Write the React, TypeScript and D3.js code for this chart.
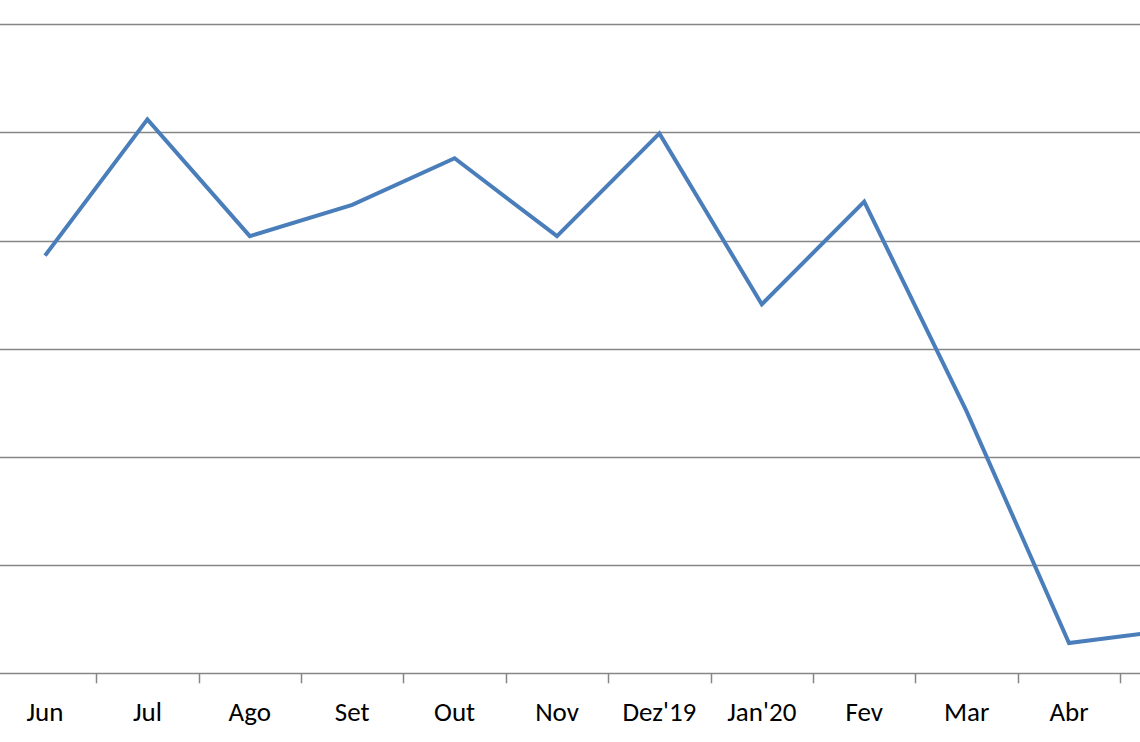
import React from "react";
import * as d3 from "d3";

const categories = ["Jun", "Jul", "Ago", "Set", "Out", "Nov", "Dez'19", "Jan'20", "Fev", "Mar", "Abr", "Mai"];
const values = [3.86, 5.12, 4.04, 4.33, 4.76, 4.04, 4.99, 3.41, 4.36, 2.42, 0.28, 0.40];
const yTicks = [0, 1, 2, 3, 4, 5, 6];

const W = 1140;
const H = 742;

export default function App() {
  const x = d3
    .scaleBand<string>()
    .domain(categories)
    .range([-6.2, -6.2 + 102.4 * categories.length])
    .paddingInner(0)
    .paddingOuter(0);
  const y = d3.scaleLinear().domain([0, 6]).range([673.3, 24.1]);
  const cx = (c: string) => (x(c) as number) + x.bandwidth() / 2;

  const line = d3
    .line<number>()
    .x((_, i) => cx(categories[i]))
    .y((d) => y(d));

  const x0 = x.range()[0];
  const x1 = x.range()[1];

  return (
    <svg
      width={W}
      height={H}
      style={{ position: "absolute", left: 0, top: 0, overflow: "hidden", background: "#fff" }}
    >
      <g>
        {yTicks.map((t) => (
          <line
            key={t}
            x1={x0}
            x2={x1}
            y1={Math.round(y(t)) + 0.5}
            y2={Math.round(y(t)) + 0.5}
            stroke="#868686"
            strokeWidth={1.5}
          />
        ))}
        {categories.map((c, i) =>
          i === 0 ? null : (
            <line
              key={"t" + c}
              x1={Math.round(x(c) as number) + 0.5}
              x2={Math.round(x(c) as number) + 0.5}
              y1={y(0)}
              y2={y(0) + 10}
              stroke="#868686"
              strokeWidth={1.5}
            />
          )
        )}
      </g>
      <path
        d={line(values) || ""}
        fill="none"
        stroke="#4a7ebb"
        strokeWidth={4}
        strokeLinejoin="miter"
      />
      <g fontFamily="Calibri, Carlito, Lato, 'Open Sans', sans-serif" fontSize={27} fill="#000">
        {categories
          .filter((c) => cx(c) < W)
          .map((c) => (
            <text key={"l" + c} x={cx(c)} y={721} textAnchor="middle">
              {c}
            </text>
          ))}
      </g>
    </svg>
  );
}
